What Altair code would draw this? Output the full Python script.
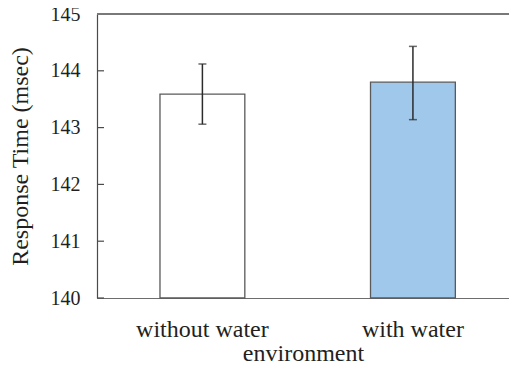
import altair as alt
import pandas as pd

categories = ["without water", "with water"]
means = [143.59, 143.80]
err_low = [143.06, 143.14]
err_high = [144.12, 144.43]
fills = ["#FFFFFF", "#9FC8EA"]
y_ticks = [140, 141, 142, 143, 144, 145]

df = pd.DataFrame({"env": categories, "rt": means, "lo": err_low, "hi": err_high, "fill": fills})
ticks_df = pd.DataFrame({"t": y_ticks})

W, H = 412, 284
FONT = "Liberation Serif"
TXT = "#231F20"

xscale = alt.Scale(domain=categories, paddingInner=0.597, paddingOuter=0.277, align=0.54)
yscale = alt.Scale(domain=[140, 145], nice=False, zero=False)

x_enc = alt.X("env:N", scale=xscale, sort=categories, title="environment",
              axis=alt.Axis(labelAngle=0, ticks=False, domainColor="#6d6d6d", domainWidth=1.2,
                            labelPadding=19, titlePadding=0,
                            labelFont=FONT, titleFont=FONT, labelFontSize=24, titleFontSize=24,
                            labelColor=TXT, titleColor=TXT, titleFontWeight="normal"))
y_enc = alt.Y("rt:Q", scale=yscale, title="Response Time (msec)",
              axis=alt.Axis(values=y_ticks, format="d", ticks=False, grid=False, domainColor="#4a4a4a",
                            domainWidth=1.2, labelPadding=17, titlePadding=18,
                            labelFont=FONT, titleFont=FONT, labelFontSize=20, titleFontSize=24,
                            labelColor=TXT, titleColor=TXT, titleFontWeight="normal"))

bars = alt.Chart(df).mark_bar(stroke="#5a5a5a", strokeWidth=1.3).encode(
    x=x_enc, y=y_enc, y2=alt.datum(140),
    fill=alt.Fill("fill:N", scale=None),
)

err = alt.Chart(df).mark_rule(color="#2b2b2b", strokeWidth=1.5).encode(
    x=alt.X("env:N", scale=xscale, sort=categories),
    y=alt.Y("lo:Q", scale=yscale), y2="hi:Q",
)
cap_hi = alt.Chart(df).mark_tick(color="#2b2b2b", thickness=1.5, size=8).encode(
    x=alt.X("env:N", scale=xscale, sort=categories), y=alt.Y("hi:Q", scale=yscale))
cap_lo = alt.Chart(df).mark_tick(color="#2b2b2b", thickness=1.5, size=8).encode(
    x=alt.X("env:N", scale=xscale, sort=categories), y=alt.Y("lo:Q", scale=yscale))

yticks = alt.Chart(ticks_df).mark_rule(color="#4a4a4a", strokeWidth=1.2).encode(
    y=alt.Y("t:Q", scale=yscale), x=alt.value(0), x2=alt.value(7))

top = alt.Chart(ticks_df).mark_rule(color="#7a7a7a", strokeWidth=1.5).encode(
    y=alt.datum(145), x=alt.value(0), x2=alt.value(W))

chart = alt.layer(bars, err, cap_hi, cap_lo, yticks, top).properties(
    width=W, height=H,
    autosize=alt.AutoSizeParams(type="none"),
    padding={"left": 89, "top": 6, "right": 0, "bottom": 63},
).configure_view(stroke=None)

chart.save("out.html", embed_options={"renderer": "svg", "actions": False})
